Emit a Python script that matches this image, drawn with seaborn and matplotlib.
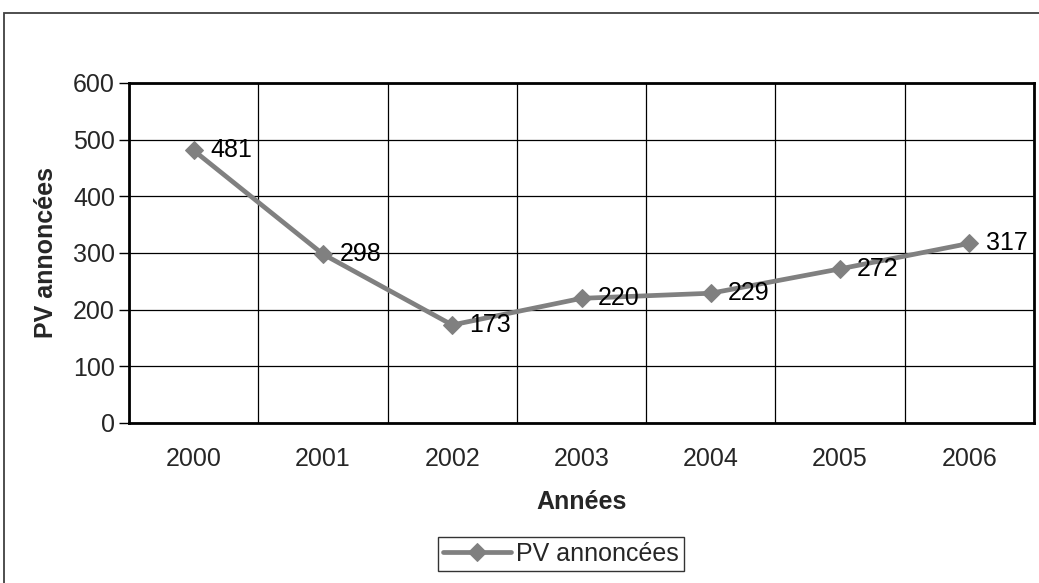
import matplotlib
matplotlib.use('Agg')
import matplotlib.pyplot as plt
import matplotlib.patches as patches
import seaborn as sns
import pandas as pd
import numpy as np

years = ['2000', '2001', '2002', '2003', '2004', '2005', '2006']
pv_annoncees = [481, 298, 173, 220, 229, 272, 317]
y_ticks = [0, 100, 200, 300, 400, 500, 600]

df = pd.DataFrame({'pos': range(len(years)), 'PV annoncées': pv_annoncees})

sns.set_style('white')
plt.rcParams['font.family'] = ['Liberation Sans', 'DejaVu Sans']

fig = plt.figure(figsize=(10.39, 5.83), dpi=100)
ax = fig.add_axes([129 / 1039, 1 - 423 / 583, (1034 - 129) / 1039, (423 - 83) / 583])

# outer chart frame (cut off on the right and bottom like the screenshot)
fig.patches.append(patches.Rectangle((4 / 1039, -0.05), 1.1, 1 - 13 / 583 + 0.05,
                                     transform=fig.transFigure, fill=False,
                                     edgecolor='#404040', linewidth=1.3))

sns.lineplot(data=df, x='pos', y='PV annoncées', ax=ax, color='#808080',
             linewidth=3.4, marker='D', markersize=9.5, markeredgecolor='#808080',
             label='PV annoncées')

for i, v in enumerate(pv_annoncees):
    ax.annotate(str(v), (i, v), xytext=(12, 0), textcoords='offset points',
                va='center', ha='left', fontsize=18, color='black')

ax.set_xlim(-0.5, len(years) - 0.5)
ax.set_ylim(0, 600)
ax.set_yticks(y_ticks)
ax.set_xticks(range(len(years)))
ax.set_xticklabels(years)
ax.set_xticks(np.arange(-0.5, len(years)), minor=True)

ax.grid(False)
ax.grid(True, axis='y', which='major', color='black', linewidth=0.9)
ax.grid(True, axis='x', which='minor', color='black', linewidth=0.9)
ax.set_axisbelow(True)

ax.tick_params(axis='x', which='major', length=0, pad=17, labelsize=18)
ax.tick_params(axis='x', which='minor', length=7, width=1, direction='out', color='black')
ax.tick_params(axis='y', which='major', length=7, width=1, direction='out', color='black',
               labelsize=18, pad=3, left=True)

for s in ax.spines.values():
    s.set_color('black')
    s.set_linewidth(2)

ax.set_xlabel('Années', fontsize=18, fontweight='bold', labelpad=14)
ax.set_ylabel('PV annoncées', fontsize=18, fontweight='bold', labelpad=11)

ax.legend(loc='center', bbox_to_anchor=(561 / 1039, 1 - 554 / 583),
          bbox_transform=fig.transFigure, fontsize=18, frameon=True,
          fancybox=False, edgecolor='black', handlelength=2.7, borderpad=0.2,
          handletextpad=0.2, borderaxespad=0)
ax.get_legend().get_frame().set_linewidth(1)

fig.savefig('out.png', dpi=100)
